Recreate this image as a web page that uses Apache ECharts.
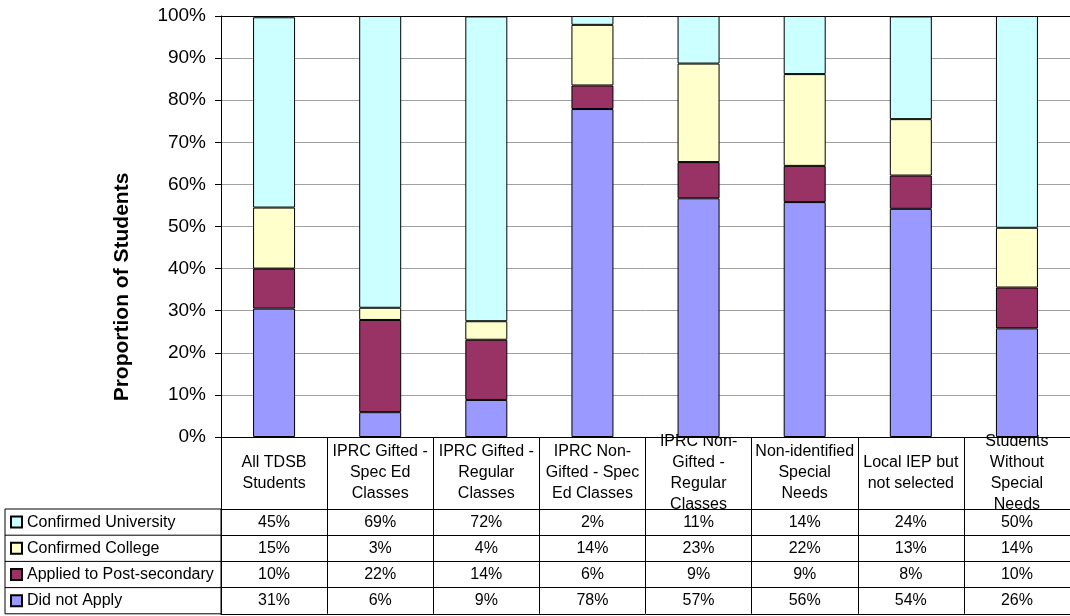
<!DOCTYPE html>
<html>
<head>
<meta charset="utf-8">
<script src="https://cdn.jsdelivr.net/npm/echarts@6/dist/echarts.min.js"></script>
<style>
html,body{margin:0;padding:0;background:#fff;}
#chart{width:1070px;height:616px;}
</style>
</head>
<body>
<div id="chart"></div>
<script>
// ---- data ----
var categories = [
  'All TDSB\nStudents',
  'IPRC Gifted -\nSpec Ed\nClasses',
  'IPRC Gifted -\nRegular\nClasses',
  'IPRC Non-\nGifted - Spec\nEd Classes',
  'IPRC Non-\nGifted -\nRegular\nClasses',
  'Non-identified\nSpecial\nNeeds',
  'Local IEP but\nnot selected',
  'Students\nWithout\nSpecial\nNeeds'
];
var seriesNames = ['Did not Apply', 'Applied to Post-secondary', 'Confirmed College', 'Confirmed University'];
var didNotApply = [30.5, 5.9, 8.8, 77.9, 56.7, 55.8, 54.2, 25.8];
var appliedPost = [9.5, 21.9, 14.3, 5.6, 8.6, 8.6, 7.9, 9.7];
var confirmedCollege = [14.5, 2.9, 4.4, 14.4, 23.4, 21.8, 13.4, 14.2];
var confirmedUniversity = [45.2, 69.3, 72.4, 2.1, 11.3, 13.8, 24.4, 50.3];
var yTicks = [0, 10, 20, 30, 40, 50, 60, 70, 80, 90, 100];

// ---- layout / style ----
var FONT = '"Liberation Sans", Arial, sans-serif';
var colors = ['#9999FF', '#993366', '#FFFFCC', '#CCFFFF'];
var GRID_LEFT = 221, GRID_TOP = 16, AXIS_Y = 437, W = 1070, H = 616;
var LABEL_ROW_H = 72;           // category label row
var ROW_H = 26.2;               // table value rows
var TABLE_TOP = AXIS_Y + LABEL_ROW_H;
var TABLE_BOTTOM = TABLE_TOP + 4 * ROW_H;
var LEG_LEFT = 5;

var seriesData = [didNotApply, appliedPost, confirmedCollege, confirmedUniversity];
// table rows from top: University, College, Applied, Did not Apply
var tableOrder = [3, 2, 1, 0];

var chart = echarts.init(document.getElementById('chart'), null, {renderer: 'canvas'});

var xAxes = [{
  type: 'category', data: categories, gridIndex: 0, position: 'bottom',
  axisLine: {show: true, lineStyle: {color: '#000', width: 1}},
  axisTick: {show: true, interval: 0, length: TABLE_BOTTOM - AXIS_Y, inside: false, lineStyle: {color: '#000', width: 1}},
  axisLabel: {interval: 0, margin: LABEL_ROW_H / 2, verticalAlign: 'middle', align: 'center',
    fontSize: 16, lineHeight: 21, color: '#000', fontFamily: FONT},
  splitLine: {show: false}
}];
tableOrder.forEach(function (si, k) {
  var row = seriesData[si];
  xAxes.push({
    type: 'category', data: categories, gridIndex: 0, position: 'bottom',
    offset: LABEL_ROW_H + k * ROW_H,
    axisLine: {show: true, lineStyle: {color: '#000', width: 1}},
    axisTick: {show: false},
    axisLabel: {interval: 0, margin: ROW_H / 2, verticalAlign: 'middle', align: 'center',
      fontSize: 16, color: '#000', fontFamily: FONT,
      formatter: function (v, idx) { return Math.round(row[idx]) + '%'; }},
    splitLine: {show: false}
  });
});
// bottom border of table
xAxes.push({
  type: 'category', data: categories, gridIndex: 0, position: 'bottom',
  offset: LABEL_ROW_H + 4 * ROW_H,
  axisLine: {show: true, lineStyle: {color: '#000', width: 1}},
  axisTick: {show: false}, axisLabel: {show: false}, splitLine: {show: false}
});
// top border of plot area
xAxes.push({
  type: 'category', data: categories, gridIndex: 0, position: 'top',
  axisLine: {show: true, lineStyle: {color: '#000', width: 1}},
  axisTick: {show: false}, axisLabel: {show: false}, splitLine: {show: false}
});

var graphics = [
  {type: 'rect', silent: true, z: 10,
   shape: {x: LEG_LEFT, y: TABLE_TOP, width: GRID_LEFT - LEG_LEFT, height: 4 * ROW_H},
   style: {fill: 'none', stroke: '#000', lineWidth: 1}},
  {type: 'text', silent: true, rotation: Math.PI / 2, x: 122, y: 287,
   style: {text: 'Proportion of Students', fontSize: 21, fontWeight: 'bold', fontFamily: FONT,
     fill: '#000', align: 'center', verticalAlign: 'middle'}}
];
for (var k = 1; k < 4; k++) {
  graphics.push({type: 'line', silent: true, z: 10,
    shape: {x1: LEG_LEFT, y1: TABLE_TOP + k * ROW_H, x2: GRID_LEFT, y2: TABLE_TOP + k * ROW_H},
    style: {stroke: '#000', lineWidth: 1}});
}

var option = {
  animation: false,
  backgroundColor: '#fff',
  textStyle: {fontFamily: FONT},
  grid: {left: GRID_LEFT, top: GRID_TOP, right: -9, bottom: H - AXIS_Y, containLabel: false},
  legend: {
    orient: 'vertical', left: LEG_LEFT + 5, top: TABLE_TOP, padding: 0,
    height: 4 * ROW_H + 2,
    data: tableOrder.map(function (i) { return seriesNames[i]; }),
    itemWidth: 11, itemHeight: 11, itemGap: 0,
    icon: 'rect', selectedMode: false,
    textStyle: {fontSize: 16, color: '#000', fontFamily: FONT, lineHeight: ROW_H}
  },
  xAxis: xAxes,
  yAxis: {
    type: 'value', min: yTicks[0], max: yTicks[yTicks.length - 1], interval: 10,
    axisLine: {show: true, lineStyle: {color: '#000', width: 1}},
    axisTick: {show: true, length: 6, inside: false, lineStyle: {color: '#000'}},
    axisLabel: {formatter: '{value}%', fontSize: 19, color: '#000', margin: 15, fontFamily: FONT},
    splitLine: {show: true, lineStyle: {color: '#a0a0a0', width: 1}}
  },
  graphic: graphics,
  series: seriesData.map(function (d, i) {
    return {
      name: seriesNames[i], type: 'bar', stack: 'total', data: d,
      barWidth: 42, xAxisIndex: 0,
      itemStyle: {color: colors[i], borderColor: '#000', borderWidth: 1},
      emphasis: {disabled: true}
    };
  })
};
chart.setOption(option);
</script>
</body>
</html>
